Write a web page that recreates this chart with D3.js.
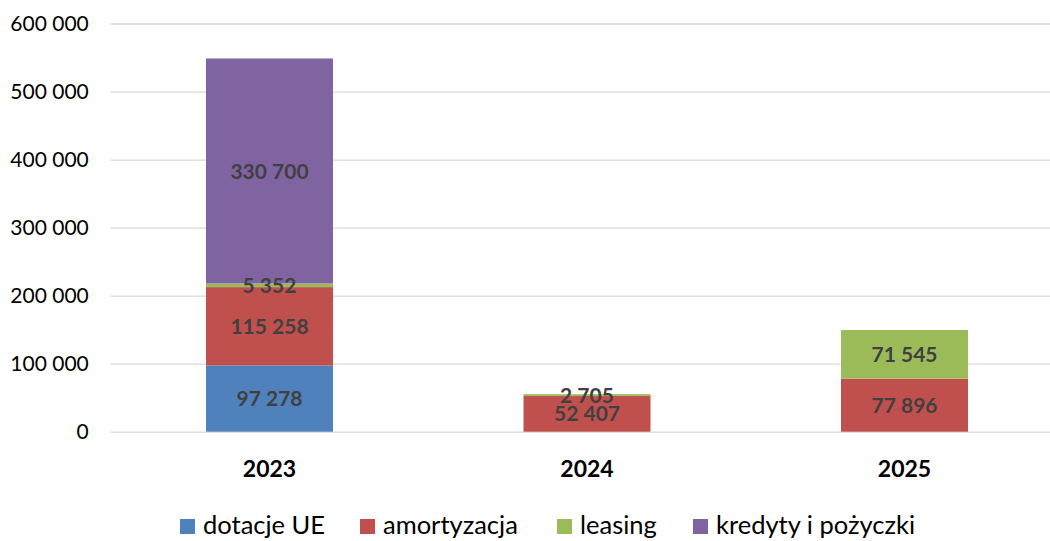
<!DOCTYPE html>
<html>
<head>
<meta charset="utf-8">
<script src="https://cdn.jsdelivr.net/npm/d3@7"></script>
<style>
  body { margin: 0; background: #fff; }
  svg { display: block; font-family: Lato, "Open Sans", sans-serif; }
</style>
</head>
<body>
<svg id="chart"></svg>
<script>
// data
var years = ['2023', '2024', '2025'];
var seriesNames = ['dotacje UE', 'amortyzacja', 'leasing', 'kredyty i pożyczki'];
var dotacje = [97278, 0, 0];
var amortyzacja = [115258, 52407, 77896];
var leasing = [5352, 2705, 71545];
var kredyty = [330700, 0, 0];
var yTicks = [0, 100000, 200000, 300000, 400000, 500000, 600000];
var colors = ['#4F81BD', '#C0504D', '#9BBB59', '#8064A2'];

var svgWidth = 1050, svgHeight = 541;

var svg = d3.select('#chart')
    .attr('width', svgWidth)
    .attr('height', svgHeight);

// build rows for the stack
var rows = years.map(function (y, i) {
    return {
        year: y,
        'dotacje UE': dotacje[i],
        'amortyzacja': amortyzacja[i],
        'leasing': leasing[i],
        'kredyty i pożyczki': kredyty[i]
    };
});

var stack = d3.stack().keys(seriesNames);
var stacked = stack(rows);

var x = d3.scaleBand()
    .domain(years)
    .range([110.75, 1063.25])
    .paddingInner(0.6)
    .paddingOuter(0.3);

var y = d3.scaleLinear()
    .domain([0, 600000])
    .range([431.7, 23.5]);

var fmt = function (v) {
    return d3.format(',')(v).replace(/,/g, ' ');
};

// gridlines + y labels
var yAxis = d3.axisLeft(y)
    .tickValues(yTicks)
    .tickSize(-(svgWidth - 110.75))
    .tickFormat(fmt);

var gy = svg.append('g')
    .attr('transform', 'translate(110.75,0)')
    .call(yAxis);

gy.select('.domain').remove();
gy.selectAll('.tick line')
    .attr('stroke', '#D9D9D9')
    .attr('stroke-width', 1.3);
gy.selectAll('.tick text')
    .attr('x', -22)
    .attr('font-size', 21)
    .attr('font-family', 'Lato')
    .attr('fill', '#000');

// bars
var layer = svg.selectAll('.layer')
    .data(stacked)
    .enter()
    .append('g')
    .attr('class', 'layer')
    .attr('fill', function (d, i) { return colors[i]; });

layer.selectAll('rect')
    .data(function (d) { return d; })
    .enter()
    .append('rect')
    .filter(function (d) { return d[1] - d[0] > 0; })
    .attr('x', function (d) { return x(d.data.year); })
    .attr('width', x.bandwidth())
    .attr('y', function (d) { return y(d[1]); })
    .attr('height', function (d) { return y(d[0]) - y(d[1]); });

// data labels (small 2024 leasing label overlaps the bar below, as in the original)
stacked.forEach(function (s) {
    svg.append('g').selectAll('text')
        .data(s.filter(function (d) { return d[1] - d[0] > 0; }))
        .enter()
        .append('text')
        .attr('x', function (d) { return x(d.data.year) + x.bandwidth() / 2; })
        .attr('y', function (d) { return y((d[0] + d[1]) / 2); })
        .attr('dy', '0.36em')
        .attr('text-anchor', 'middle')
        .attr('font-size', 21)
        .attr('font-weight', 'bold')
        .attr('fill', '#404040')
        .text(function (d) { return fmt(d[1] - d[0]); });
});

// x labels
var xAxis = d3.axisBottom(x).tickSize(0);
var gx = svg.append('g')
    .attr('transform', 'translate(0,431.7)')
    .call(xAxis);
gx.select('.domain').remove();
gx.selectAll('.tick text')
    .attr('y', 0)
    .attr('dy', 45)
    .attr('font-size', 23)
    .attr('font-family', 'Lato')
    .attr('font-weight', 'bold')
    .attr('fill', '#000');

// legend
var legendX = [180, 360, 557, 693];
var legend = svg.append('g')
    .selectAll('g')
    .data(seriesNames)
    .enter()
    .append('g')
    .attr('transform', function (d, i) { return 'translate(' + legendX[i] + ',519)'; });

legend.append('rect')
    .attr('width', 15)
    .attr('height', 15)
    .attr('fill', function (d, i) { return colors[i]; });

legend.append('text')
    .attr('x', 23)
    .attr('y', 15)
    .attr('font-size', 25.5)
    .attr('fill', '#000')
    .text(function (d) { return d; });
</script>
</body>
</html>
